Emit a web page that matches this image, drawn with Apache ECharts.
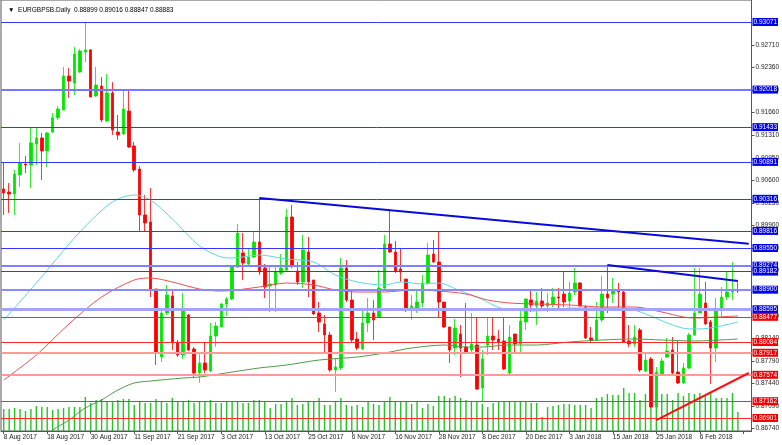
<!DOCTYPE html>
<html><head><meta charset="utf-8">
<script src="https://cdn.jsdelivr.net/npm/echarts@6/dist/echarts.min.js"></script>
<style>html,body{margin:0;padding:0;background:#fff}#c{width:782px;height:445px}</style>
</head><body><div id="c"></div>
<script>
const tickLabels = ['8 Aug 2017','18 Aug 2017','30 Aug 2017','11 Sep 2017','21 Sep 2017','3 Oct 2017','13 Oct 2017','25 Oct 2017','6 Nov 2017','16 Nov 2017','28 Nov 2017','8 Dec 2017','20 Dec 2017','3 Jan 2018','15 Jan 2018','25 Jan 2018','6 Feb 2018'];

const opens = [0.90469,0.90422,0.90391,0.90687,0.90858,0.90843,0.91171,0.91264,0.91063,0.91357,
0.91578,0.91700,0.92230,0.92120,0.92292,0.92603,0.92635,0.91918,0.92073,0.91529,
0.91965,0.91357,0.91326,0.91684,0.91139,0.90780,0.90064,0.89955,0.88911,0.87851,
0.88537,0.88801,0.88085,0.87882,0.88506,0.87976,0.87602,0.87758,0.87633,0.88178,
0.88319,0.88677,0.88755,0.89254,0.89472,0.89300,0.89409,0.89643,0.89238,0.88958,
0.88973,0.89160,0.89207,0.90033,0.89191,0.89020,0.89487,0.89051,0.88537,0.88366,
0.88194,0.87649,0.87680,0.89238,0.88739,0.88132,0.87976,0.88381,0.88537,0.88474,
0.88926,0.89612,0.89487,0.89223,0.89066,0.88615,0.88615,0.88693,0.89004,0.89456,
0.89331,0.88708,0.88319,0.87991,0.88210,0.88007,0.87960,0.88038,0.87368,0.88038,
0.88178,0.88132,0.88101,0.87602,0.88210,0.88054,0.88397,0.88739,0.88646,0.88724,
0.88646,0.88677,0.88786,0.88833,0.88724,0.88864,0.89004,0.88630,0.88147,0.88116,
0.88428,0.88833,0.88833,0.88895,0.88864,0.88101,0.88054,0.88272,0.87633,0.87820,
0.87072,0.87586,0.87851,0.87960,0.87617,0.87446,0.87680,0.88194,0.88537,0.88693,
0.88397,0.87991,0.88599,0.88786,0.88864,0.88899];

const closes = [0.90406,0.90391,0.90702,0.90874,0.90843,0.91186,0.91264,0.91063,0.91342,0.91578,
0.91715,0.92230,0.92152,0.92572,0.92619,0.92635,0.91902,0.92089,0.91544,0.91965,
0.91388,0.91311,0.91715,0.91124,0.90765,0.90064,0.89939,0.88911,0.87913,0.88537,
0.88817,0.88069,0.87882,0.88584,0.87960,0.87602,0.87758,0.87649,0.88178,0.88334,
0.88677,0.88755,0.89254,0.89783,0.89316,0.89409,0.89643,0.89176,0.88942,0.88989,
0.89176,0.89238,0.90033,0.89285,0.89020,0.89519,0.89020,0.88521,0.88397,0.88194,
0.87649,0.87695,0.89238,0.88739,0.88116,0.87991,0.88381,0.88537,0.88428,0.88926,
0.89612,0.89487,0.89191,0.89176,0.88615,0.88646,0.88708,0.89004,0.89440,0.89331,
0.88708,0.88319,0.87960,0.88303,0.87991,0.87929,0.88054,0.87352,0.87820,0.88178,
0.88116,0.88085,0.87664,0.88163,0.88054,0.88412,0.88755,0.88661,0.88724,0.88646,
0.88693,0.88786,0.88770,0.88708,0.88848,0.89004,0.88646,0.88147,0.88116,0.88428,
0.88833,0.88770,0.88895,0.88864,0.88085,0.88054,0.88163,0.87649,0.87804,0.87072,
0.87617,0.87789,0.87945,0.87602,0.87446,0.87680,0.88194,0.88537,0.88833,0.88366,
0.87991,0.88568,0.88786,0.88864,0.88895,0.88883];

const lows = [0.90064,0.90095,0.90064,0.90500,0.90718,0.90484,0.90843,0.90609,0.90811,0.91342,
0.91544,0.91700,0.91887,0.91933,0.92276,0.92448,0.91902,0.91902,0.91513,0.91513,
0.91311,0.91233,0.91311,0.91108,0.90734,0.89799,0.89799,0.88786,0.87726,0.87773,
0.88506,0.87960,0.87851,0.87820,0.87945,0.87524,0.87446,0.87602,0.87617,0.88007,
0.88319,0.88490,0.88739,0.89238,0.89051,0.89269,0.89394,0.89129,0.88770,0.88552,
0.88552,0.89129,0.89191,0.89238,0.88973,0.88926,0.88786,0.88506,0.88241,0.87929,
0.87617,0.87306,0.87649,0.88708,0.88085,0.87960,0.87960,0.88241,0.88116,0.88459,
0.88895,0.89472,0.89160,0.89020,0.88552,0.88428,0.88537,0.88630,0.88973,0.89316,
0.88459,0.88303,0.87758,0.87882,0.87539,0.87913,0.87929,0.87337,0.87150,0.87882,
0.87960,0.87960,0.87649,0.87571,0.87929,0.87929,0.88272,0.88552,0.88350,0.88615,
0.88552,0.88630,0.88584,0.88630,0.88615,0.88817,0.88630,0.88132,0.88085,0.88101,
0.88397,0.88537,0.88693,0.88615,0.88069,0.88007,0.88007,0.87617,0.87617,0.87057,
0.87057,0.87571,0.87836,0.87571,0.87430,0.87430,0.87664,0.88178,0.88537,0.88350,
0.87430,0.87773,0.88490,0.88739,0.88739,0.88847];

const highs = [0.90874,0.90562,0.90765,0.91186,0.90983,0.91420,0.91435,0.91342,0.91357,0.91653,
0.91762,0.92370,0.92354,0.92681,0.92650,0.93071,0.92650,0.92370,0.92214,0.92261,
0.92136,0.91622,0.92011,0.92027,0.91202,0.90827,0.90375,0.90484,0.88911,0.88584,
0.88973,0.88879,0.88116,0.88848,0.88521,0.88007,0.87929,0.88085,0.88381,0.88397,
0.88693,0.88786,0.89285,0.89924,0.89783,0.89550,0.89799,0.90329,0.89300,0.89285,
0.89285,0.89456,0.90157,0.90220,0.89331,0.89752,0.89721,0.89051,0.88708,0.88506,
0.88241,0.87836,0.89394,0.89362,0.88879,0.88241,0.88615,0.88770,0.88739,0.89207,
0.89752,0.90142,0.89659,0.89534,0.89066,0.88817,0.88911,0.89129,0.89628,0.89674,
0.89799,0.88708,0.88319,0.88443,0.88350,0.88693,0.88537,0.88474,0.87960,0.88459,
0.88459,0.88272,0.88459,0.88350,0.88210,0.88615,0.88770,0.88895,0.88864,0.88926,
0.88848,0.88926,0.88926,0.89176,0.89020,0.89238,0.89020,0.88661,0.88319,0.88708,
0.89113,0.89285,0.89082,0.89004,0.88879,0.88350,0.88350,0.88303,0.87913,0.87851,
0.87695,0.87836,0.88147,0.88163,0.88116,0.87758,0.88225,0.89238,0.89238,0.89020,
0.88428,0.88770,0.88942,0.89176,0.89331,0.89016];

const volumes = [22,22,23,22,20,22,25,24,24,21,22,23,24,24,24,34,
28,31,32,29,29,31,32,32,26,29,28,28,32,29,28,33,29,29,31,28,29,29,31,28,28,29,30,30,28,28,31,31,
30,23,27,27,29,33,26,27,30,29,33,26,26,29,33,26,25,26,24,30,27,26,
29,34,29,29,29,27,29,23,27,25,35,35,33,35,33,31,30,29,27,24,28,29,29,
29,29,29,29,28,28,14,24,25,26,27,27,26,26,26,23,33,34,37,36,36,43,38,
38,31,37,36,38,37,37,31,38,35,38,37,38,35,38,33,33,33,38,19];

const maFast = [[0,0.88428],[6,0.89004],[14,0.89799],[20,0.90266],[24,0.90375],[27,0.90297],[31,0.90001],[36,0.89581],[40,0.89409],[42,0.89394],[47,0.89440],[52,0.89378],[57,0.89331],[61,0.89129],[65,0.89020],[70,0.88973],[73,0.89020],[77,0.88989],[80,0.89004],[84,0.88879],[87,0.88786],[92,0.88599],[98,0.88568],[104,0.88615],[109,0.88615],[115,0.88599],[119,0.88490],[122,0.88381],[126,0.88288],[128,0.88288],[131,0.88319],[135,0.88397]];
const maMid = [[0,0.87493],[6,0.87882],[12,0.88366],[18,0.88786],[24,0.89051],[27,0.89082],[31,0.89020],[36,0.88911],[40,0.88879],[47,0.88942],[52,0.89004],[57,0.88973],[61,0.88895],[65,0.88864],[70,0.88864],[75,0.88895],[80,0.88879],[85,0.88833],[89,0.88739],[93,0.88693],[98,0.88677],[104,0.88661],[110,0.88630],[116,0.88630],[121,0.88552],[125,0.88474],[127,0.88459],[131,0.88474],[135,0.88490]];
const maSlow = [[4,0.86402],[9,0.86713],[12,0.86869],[15,0.87057],[18,0.87182],[21,0.87337],[24,0.87446],[27,0.87477],[33,0.87524],[36,0.87539],[42,0.87617],[47,0.87680],[52,0.87726],[58,0.87804],[65,0.87851],[70,0.87913],[75,0.87991],[81,0.88038],[85,0.88007],[88,0.88007],[93,0.88038],[98,0.88038],[104,0.88085],[110,0.88116],[116,0.88132],[121,0.88116],[127,0.88101],[135,0.88132]];

const blueLevels = [0.93071,0.92018,0.91433,0.90891,0.90316,0.89816,0.89550,0.89274,0.89182,0.88900,0.88595];
const redLevels = [0.88477,0.88084,0.87917,0.87574,0.87162,0.86901];
const priceTicks = [0.86740,0.87090,0.87440,0.87790,0.88140,0.88490,0.89200,0.89550,0.89900,0.90250,0.90600,0.90950,0.91310,0.91660,0.92010,0.92360,0.92710];

const trendDown1 = [[47,0.90329],[137,0.89617]];
const trendDown2 = [[111,0.89285],[135,0.89036]];
const trendUp = [[120,0.86869],[137,0.87602]];

const N_CATS = 138;
const categories = Array.from({length: N_CATS}, (_, i) => String(i));
const FONT = 'Liberation Sans';

const lightBlue = {0.92018: ['#7878ff', 2], 0.89274: ['#8080ff', 2], 0.88900: ['#8a8aff', 2], 0.88595: ['#a4a4ff', 3]};
const lightRed = {0.87917: ['#ff9a9a', 2], 0.87574: ['#ff9a9a', 2]};

function levelItem(v, isBlue) {
  const st = isBlue ? lightBlue[v] : lightRed[v];
  const col = st ? st[0] : (isBlue ? '#3535ff' : '#ff2a2a');
  const w = st ? st[1] : 1;
  return {
    yAxis: v,
    lineStyle: {color: col, width: w, type: 'solid'},
    label: {
      show: true, position: 'end', distance: 1,
      formatter: () => v.toFixed(5),
      color: '#fff', backgroundColor: isBlue ? '#0000f0' : '#f00000',
      fontSize: 6.5, fontFamily: FONT, padding: [1, 1, 0, 1], lineHeight: 7
    }
  };
}
function trendItem(pts, col) {
  return [{coord: [String(pts[0][0]), pts[0][1]], lineStyle: {color: col, width: 2, type: 'solid'}, label: {show: false}},
          {coord: [String(pts[1][0]), pts[1][1]]}];
}

const chart = echarts.init(document.getElementById('c'), null, {renderer: 'canvas'});
chart.setOption({
  animation: false,
  backgroundColor: '#fff',
  title: {
    text: '\u25BC  EURGBPSB.Daily  0.88899 0.89016 0.88847 0.88883',
    left: 3, top: 2,
    textStyle: {fontSize: 6.5, fontWeight: 'normal', color: '#000', fontFamily: FONT}
  },
  grid: {left: 1, top: 0, right: 29, bottom: 14, show: true, borderColor: '#555', borderWidth: 1, backgroundColor: '#fff'},
  xAxis: {
    type: 'category', data: categories, boundaryGap: true,
    axisLine: {show: true, lineStyle: {color: '#555'}},
    axisTick: {show: true, alignWithLabel: true, length: 3, interval: i => i % 8 === 0, lineStyle: {color: '#555'}},
    axisLabel: {interval: i => i % 8 === 0, formatter: (v, i) => tickLabels[i / 8] || '', align: 'left',
      fontSize: 6.5, color: '#222', margin: 3, fontFamily: FONT},
    splitLine: {show: false}
  },
  yAxis: [{
    type: 'value', position: 'right', min: 0.86698, max: 0.93414,
    splitLine: {show: false},
    axisLine: {show: true, lineStyle: {color: '#555'}},
    axisTick: {show: true, length: 3, customValues: priceTicks, lineStyle: {color: '#555'}},
    axisLabel: {customValues: priceTicks, formatter: v => v.toFixed(5), fontSize: 6.5, color: '#222', margin: 4, fontFamily: FONT}
  }, {
    type: 'value', min: 0, max: 431, show: false
  }],
  series: [
    {type: 'bar', yAxisIndex: 1, data: volumes, barWidth: 1.4, silent: true, z: 1,
     itemStyle: {color: '#22c422'}},
    {type: 'candlestick', data: opens.map((o, i) => [o, closes[i], lows[i], highs[i]]),
     barWidth: 3, z: 2, silent: true,
     itemStyle: {color: '#00e600', color0: '#ff0000', borderColor: '#00e600', borderColor0: '#ff0000', borderWidth: 0.8}},
    {type: 'line', data: maFast, showSymbol: false, smooth: 0.3, z: 3, silent: true,
     lineStyle: {color: '#5fd4e4', width: 1}},
    {type: 'line', data: maMid, showSymbol: false, smooth: 0.3, z: 3, silent: true,
     lineStyle: {color: '#ee5050', width: 1}},
    {type: 'line', data: maSlow, showSymbol: false, smooth: 0.3, z: 3, silent: true,
     lineStyle: {color: '#4f9a4f', width: 1}},
    {type: 'line', data: [], z: 4, silent: true,
     markLine: {
       silent: true, symbol: ['none', 'none'], animation: false, precision: 5,
       data: blueLevels.map(v => levelItem(v, true))
         .concat(redLevels.map(v => levelItem(v, false)))
         .concat([
           trendItem(trendDown1, '#0a0ad8'),
           trendItem(trendDown2, '#0a0ad8'),
           trendItem(trendUp, '#ff1010')
         ])
     }}
  ]
});
</script>
</body></html>
